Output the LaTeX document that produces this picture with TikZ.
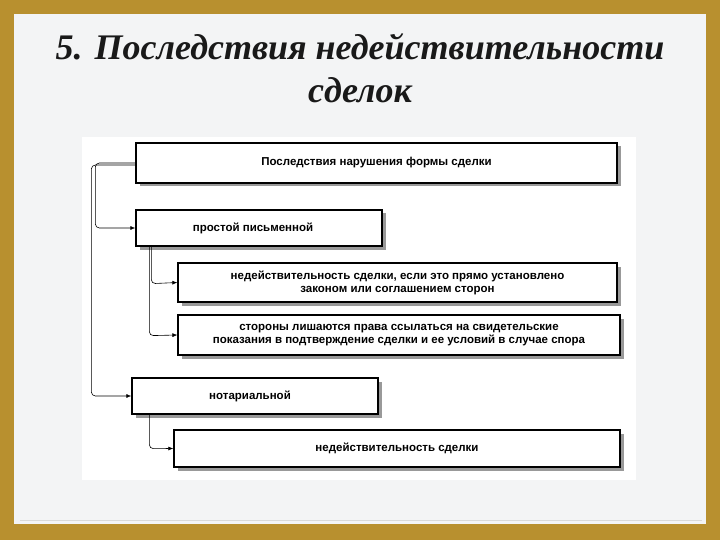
\documentclass[tikz,border=0pt]{standalone}
\usepackage{fontspec}
\setmainfont{Liberation Serif}
\newfontfamily\boxfont{Liberation Sans}
\usetikzlibrary{arrows.meta,shadows}
\definecolor{gold}{HTML}{B8902F}
\definecolor{panel}{HTML}{F3F4F5}
\begin{document}
\begin{tikzpicture}[x=1pt,y=-1pt,
  bx/.style={draw=black,line width=1.3pt,fill=white,minimum height=#1,
    font=\boxfont\bfseries\fontsize{11.5}{13}\selectfont,align=center,inner sep=0pt,
    drop shadow={shadow xshift=3.5pt,shadow yshift=-3.5pt,fill=black!40,opacity=1}},
  lbl/.style={font=\boxfont\bfseries\fontsize{11.5}{13}\selectfont},
  ttl/.style={font=\bfseries\itshape\fontsize{36}{40}\selectfont,text=black!90},
  conn/.style={draw=black,line width=0.6pt,rounded corners=4pt,-{Latex[length=5pt,width=4pt]}}]
\useasboundingbox (0,0) rectangle (720,540);
\fill[gold] (0,0) rectangle (720,540);
\fill[panel] (14,14) rectangle (706,524);
\draw[black!15] (20,520) -- (702,520);
\fill[white] (82,137) rectangle (636,480);
\node[ttl] (t1) at (360,47) {5. Последствия недействительности};
\node[ttl] (t2) at (360,90) {сделок};
\node[bx=40pt,minimum width=481pt] (b1) at (376.5,163) {Последствия нарушения формы сделки};
\node[bx=36pt,minimum width=246pt] (b2) at (259,228) {};
\node[lbl] (l2) at (253,228) {простой письменной};
\node[bx=39pt,minimum width=439pt] (b3) at (397.5,282.5) {недействительность сделки, если это прямо установлено\\законом или соглашением сторон};
\node[bx=40pt,minimum width=442pt] (b4) at (399,335) {стороны лишаются права ссылаться на свидетельские\\показания в подтверждение сделки и ее условий в случае спора};
\node[bx=36pt,minimum width=246pt] (b5) at (255,396) {};
\node[lbl] (l5) at (250,396) {нотариальной};
\node[bx=37pt,minimum width=446pt] (b6) at (397,448.5) {недействительность сделки};
\draw[conn] (b1.west) -- ++(-40,0) -- ++(0,65) -- (b2.west);
\draw[conn] ([yshift=-2pt]b1.west) -- ++(-44,0) -- ++(0,231) -- (b5.west);
\draw[conn] ([xshift=16pt]b2.south west) -- ++(0,37) -- (b3.west);
\draw[conn] ([xshift=14pt]b2.south west) -- ++(0,89) -- (b4.west);
\draw[conn] ([xshift=18pt]b5.south west) -- ++(0,34) -- (b6.west);
\end{tikzpicture}
\end{document}
